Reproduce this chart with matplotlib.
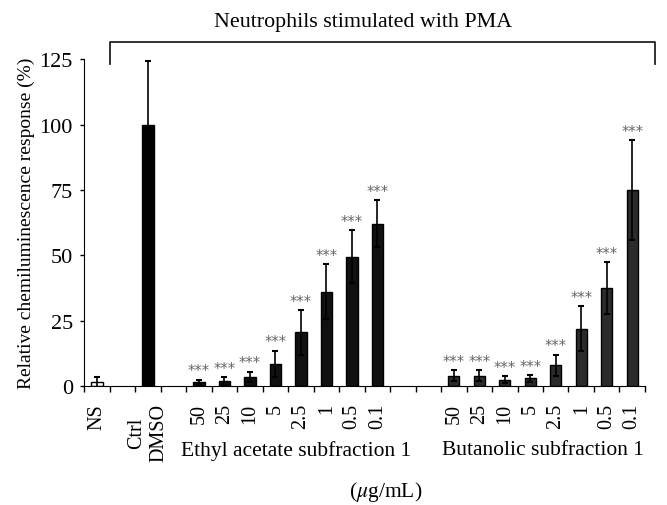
import numpy as np
import matplotlib
matplotlib.use("Agg")
import matplotlib.pyplot as plt

plt.rcParams['font.family'] = ['Liberation Serif', 'DejaVu Serif']
plt.rcParams['mathtext.fontset'] = 'stix'

# categories (one slot each, '' = empty slot)
labels = ['NS', '', 'Ctrl\nDMSO', '',
          '50', '25', '10', '5', '2.5', '1', '0.5', '0.1', '', '',
          '50', '25', '10', '5', '2.5', '1', '0.5', '0.1']
ns_val, ns_err = 1.5, 2.0
dmso_val, dmso_err = 100.0, 24.5
ea_vals = [1.5, 2.0, 3.5, 8.5, 20.5, 36.0, 49.5, 62.0]
ea_errs = [1.0, 1.5, 2.0, 5.0, 8.5, 10.5, 10.0, 9.0]
bu_vals = [4.0, 4.0, 2.5, 3.0, 8.0, 22.0, 37.5, 75.0]
bu_errs = [2.0, 2.0, 1.3, 1.3, 4.0, 8.5, 10.0, 19.0]

ea_pos = np.arange(4, 12)
bu_pos = np.arange(14, 22)
w = 0.45
ekw = dict(ecolor='black', elinewidth=1.2, capsize=2.5, capthick=1.5)

fig = plt.figure(figsize=(6.67, 5.06), dpi=100)
ax = fig.add_axes([0.126, 0.235, 0.841, 0.646])

ax.bar(0, ns_val, w, yerr=ns_err, color='white', edgecolor='black', lw=1, error_kw=ekw)
ax.bar(2, dmso_val, w, yerr=dmso_err, color='black', edgecolor='black', error_kw=ekw)
ax.bar(ea_pos, ea_vals, w, yerr=ea_errs, color='#111111', edgecolor='black', error_kw=ekw)
ax.bar(bu_pos, bu_vals, w, yerr=bu_errs, color='#2b2b2b', edgecolor='black', error_kw=ekw)

for x, v, e in zip(np.r_[ea_pos, bu_pos], ea_vals + bu_vals, ea_errs + bu_errs):
    ax.text(x, v + e + 0.5, '***', ha='center', va='bottom', fontsize=10.5,
            color='#666666', family='DejaVu Sans')

ax.set_xlim(-0.5, 21.5)
ax.set_ylim(0, 125)
ax.set_yticks([0, 25, 50, 75, 100, 125])
ax.set_xticks(np.arange(-0.5, 22, 1), minor=False)
ax.set_xticklabels([])
ax.set_xticks(np.arange(22), minor=True)
ax.set_xticklabels(labels, minor=True, rotation=90, fontsize=14.5, va='top', ha='center')
ax.tick_params(axis='x', which='minor', length=0, pad=12)
ax.tick_params(axis='x', which='major', length=4, width=1)
ax.tick_params(axis='y', length=3, width=1, labelsize=16, pad=5)
for s in ['top', 'right']:
    ax.spines[s].set_visible(False)
ax.set_ylabel('Relative chemiluminescence response (%)', fontsize=14, labelpad=3)

tr = ax.get_xaxis_transform()
ax.text(7.8, -0.195, 'Ethyl acetate subfraction 1', transform=tr, ha='center', va='center', fontsize=15.5)
ax.text(17.5, -0.195, 'Butanolic subfraction 1', transform=tr, ha='center', va='center', fontsize=15.5)
fig.text(0.578, 0.028, r'($\mu$g/mL)', ha='center', va='center', fontsize=15.5)

# bracket for PMA stimulated groups
bx = [110 / 667, 110 / 667, 655 / 667, 655 / 667]
by = [1 - 65 / 506, 1 - 43 / 506, 1 - 43 / 506, 1 - 65 / 506]
fig.add_artist(plt.Line2D(bx, by, color='#222222', lw=1.3))
fig.text(363 / 667, 1 - 23 / 506, 'Neutrophils stimulated with PMA', ha='center', va='center', fontsize=15.8)

fig.savefig('out.png', dpi=100)
